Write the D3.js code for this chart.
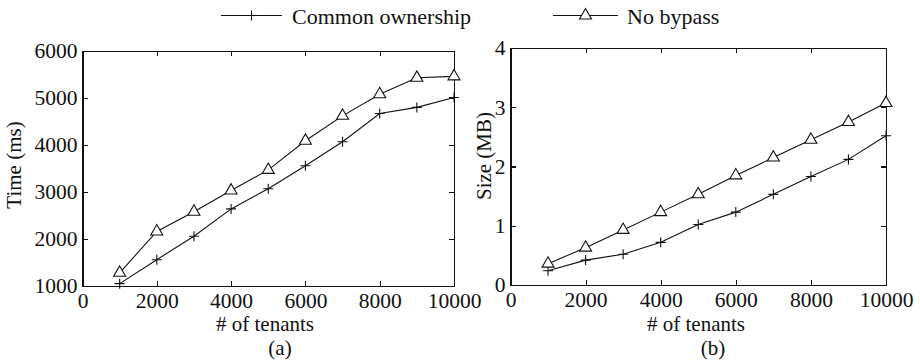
<!DOCTYPE html>
<html>
<head>
<meta charset="utf-8">
<script src="https://cdn.jsdelivr.net/npm/d3@7"></script>
<style>
    body { margin: 0; background: #fff; }
    svg text { font-family: "Liberation Serif", "Times New Roman", serif; fill: #111; }
    .axis path, .axis line { stroke: #111; stroke-width: 1.1; shape-rendering: crispEdges; }
    .axis text { font-size: 21.5px; }
</style>
</head>
<body>
<div id="chart"></div>
<script>

// values
const tenants = [1000, 2000, 3000, 4000, 5000, 6000, 7000, 8000, 9000, 10000];
const timeCommon = [1050, 1560, 2060, 2640, 3070, 3560, 4070, 4670, 4800, 5010];
const timeNoBypass = [1280, 2160, 2580, 3030, 3470, 4090, 4620, 5080, 5430, 5460];
const sizeCommon = [0.24, 0.42, 0.52, 0.72, 1.02, 1.23, 1.53, 1.83, 2.12, 2.52];
const sizeNoBypass = [0.36, 0.63, 0.93, 1.23, 1.53, 1.85, 2.15, 2.45, 2.75, 3.07];

const tenantTicks = [0, 2000, 4000, 6000, 8000, 10000];
const timeTicks = [1000, 2000, 3000, 4000, 5000, 6000];
const sizeTicks = [0, 1, 2, 3, 4];

const seriesNames = ["Common ownership", "No bypass"];

class PanelVis {

    constructor(_svg, _box, _series, _yDomain, _yTicks, _yLabel, _caption, _labelPos) {
        this.svg = _svg;
        this.box = _box;
        this.series = _series;
        this.yDomain = _yDomain;
        this.yTicks = _yTicks;
        this.yLabel = _yLabel;
        this.caption = _caption;
        this.labelPos = _labelPos;

        this.initVis();
    }

    initVis() {
        let vis = this;
        let b = vis.box;

        vis.width = b.right - b.left;
        vis.height = b.bottom - b.top;

        vis.g = vis.svg.append("g")
            .attr("transform", "translate(" + b.left + "," + b.top + ")");

        vis.x = d3.scaleLinear().domain([0, 10000]).range([0, vis.width]);
        vis.y = d3.scaleLinear().domain(vis.yDomain).range([vis.height, 0]);

        // bottom + left carry the labels, top + right only the inward ticks
        vis.g.append("g").attr("class", "axis")
            .attr("transform", "translate(0," + vis.height + ")")
            .call(d3.axisBottom(vis.x).tickValues(tenantTicks).tickSizeInner(-5).tickSizeOuter(0).tickPadding(6.5).tickFormat(d3.format("d")));
        vis.g.append("g").attr("class", "axis")
            .call(d3.axisTop(vis.x).tickValues(tenantTicks).tickSizeInner(-5).tickSizeOuter(0).tickFormat(""));
        vis.g.append("g").attr("class", "axis")
            .call(d3.axisLeft(vis.y).tickValues(vis.yTicks).tickSizeInner(-5).tickSizeOuter(0).tickPadding(5).tickFormat(d3.format("d")));
        vis.g.append("g").attr("class", "axis")
            .attr("transform", "translate(" + vis.width + ",0)")
            .call(d3.axisRight(vis.y).tickValues(vis.yTicks).tickSizeInner(-5).tickSizeOuter(0).tickFormat(""));

        vis.g.selectAll(".axis .tick text").attr("fill", "#111");

        vis.g.append("text")
            .attr("x", vis.labelPos.xTitle - b.left)
            .attr("y", 331 - b.top)
            .attr("text-anchor", "middle")
            .style("font-size", "21px")
            .text("# of tenants");

        vis.g.append("text")
            .attr("x", vis.labelPos.caption - b.left)
            .attr("y", 354.5 - b.top)
            .attr("text-anchor", "middle")
            .style("font-size", "21px")
            .text(vis.caption);

        vis.svg.append("text")
            .attr("transform", "translate(" + vis.labelPos.yTitleX + "," + vis.labelPos.yTitleY + ") rotate(-90)")
            .attr("text-anchor", "middle")
            .style("font-size", "21px")
            .text(vis.yLabel);

        vis.updateVis();
    }

    updateVis() {
        let vis = this;

        let line = d3.line()
            .x(d => vis.x(d.x))
            .y(d => vis.y(d.y));

        vis.series.forEach(s => {
            let pts = tenants.map((t, i) => ({x: t, y: s.values[i]}));

            vis.g.append("path")
                .datum(pts)
                .attr("fill", "none")
                .attr("stroke", "#111")
                .attr("stroke-width", 1.1)
                .attr("d", line);

            vis.g.selectAll(".m-" + s.marker)
                .data(pts)
                .enter().append("path")
                .attr("class", "m-" + s.marker)
                .attr("transform", d => "translate(" + vis.x(d.x) + "," + vis.y(d.y) + ")")
                .attr("d", markerPath(s.marker))
                .attr("fill", s.marker === "tri" ? "#fff" : "none")
                .attr("stroke", "#111")
                .attr("stroke-width", 1.1);
        });
    }
}

function markerPath(type) {
    if (type === "tri") return d3.symbol(d3.symbolTriangle).size(62)();
    return "M-5,0H5M0,-5V5";
}

let svg = d3.select("#chart").append("svg")
    .attr("width", 920)
    .attr("height", 361);

// legend
let legend = [
    {name: seriesNames[0], marker: "plus", x0: 221, x1: 282, tx: 292},
    {name: seriesNames[1], marker: "tri", x0: 553, x1: 618, tx: 627}
];
legend.forEach(l => {
    svg.append("line")
        .attr("x1", l.x0).attr("x2", l.x1)
        .attr("y1", 15.5).attr("y2", 15.5)
        .attr("stroke", "#111").attr("stroke-width", 1.1);
    svg.append("path")
        .attr("transform", "translate(" + ((l.x0 + l.x1) / 2) + ",15.5)")
        .attr("d", markerPath(l.marker))
        .attr("fill", l.marker === "tri" ? "#fff" : "none")
        .attr("stroke", "#111").attr("stroke-width", 1.1);
    svg.append("text")
        .attr("x", l.tx).attr("y", 24)
        .style("font-size", "22px")
        .text(l.name);
});

new PanelVis(svg, {left: 82.5, right: 454, top: 51, bottom: 286},
    [{values: timeCommon, marker: "plus"}, {values: timeNoBypass, marker: "tri"}],
    [1000, 6000], timeTicks, "Time (ms)", "(a)",
    {xTitle: 265, caption: 280, yTitleX: 21, yTitleY: 165});

new PanelVis(svg, {left: 510.5, right: 886, top: 48, bottom: 285},
    [{values: sizeCommon, marker: "plus"}, {values: sizeNoBypass, marker: "tri"}],
    [0, 4], sizeTicks, "Size (MB)", "(b)",
    {xTitle: 696, caption: 713, yTitleX: 491, yTitleY: 156});

</script>
</body>
</html>
